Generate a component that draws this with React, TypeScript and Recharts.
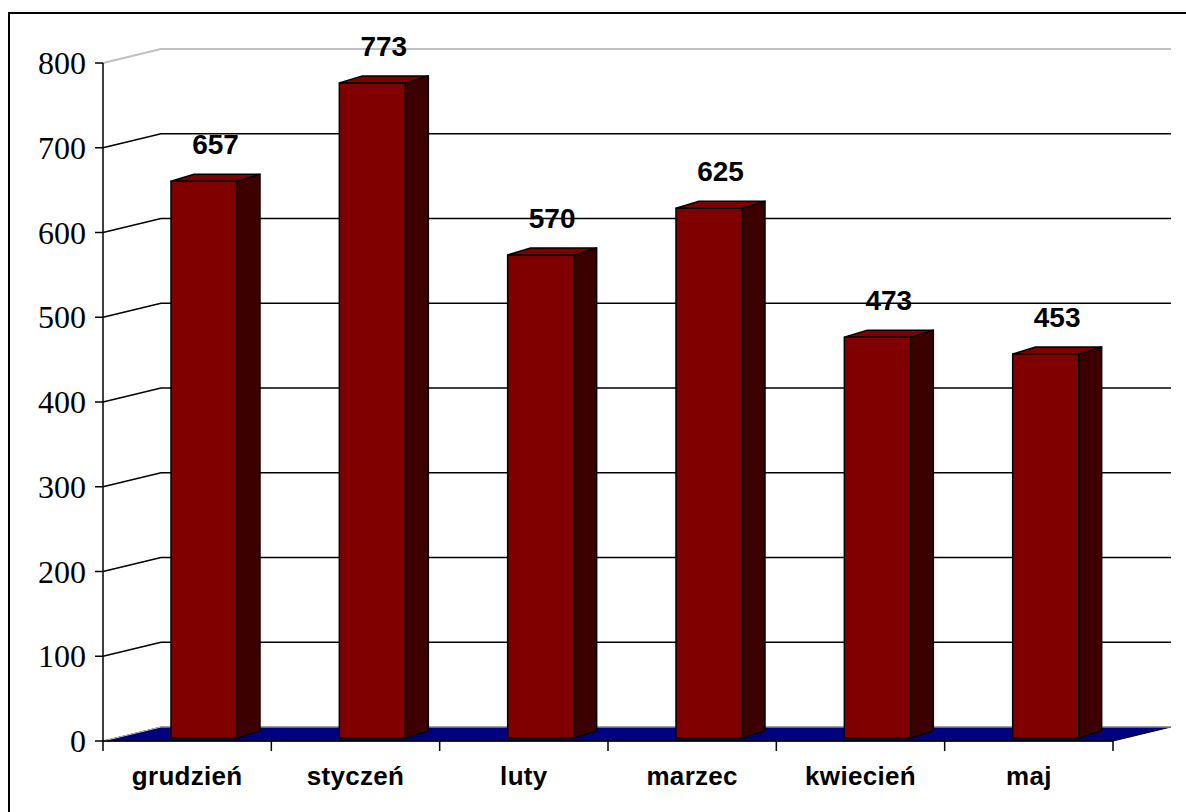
import React from 'react';
import { BarChart, Bar, XAxis, YAxis, CartesianGrid, LabelList } from 'recharts';

const months = ['grudzień', 'styczeń', 'luty', 'marzec', 'kwiecień', 'maj'];
const counts = [657, 773, 570, 625, 473, 453];
const yTicks = [0, 100, 200, 300, 400, 500, 600, 700, 800];

const data = months.map((month, i) => ({ month, count: counts[i] }));

// layout (page pixels, the chart sits at 0,0)
const W = 1186;
const H = 812;
const TOP = 63;
const RIGHT = 73;
const AXIS_W = 103;
const AXIS_H = 71;
const AXIS_Y = H - AXIS_H;
const BAND = (W - RIGHT - AXIS_W) / months.length;

// fake 3d: back wall offset and bar depth
const WALL_DX = 58;
const WALL_DY = 14;
const BAR_DX = 23;
const BAR_DY = 7;
const BAR_SHIFT_X = 17;
const BAR_SHIFT_Y = 3;
const LABEL_LIFT = 27;

const SANS = '"Liberation Sans", Arial, sans-serif';
const SERIF = '"Liberation Serif", "Times New Roman", serif';

const renderGridLine = (props: any) => {
  const { x1, y1, x2 } = props;
  const bx1 = x1 + WALL_DX;
  const bx2 = x2 + WALL_DX;
  const by = y1 - WALL_DY;
  if (Math.abs(y1 - AXIS_Y) < 1) {
    // floor
    return (
      <g key={`grid-${y1}`}>
        <polygon
          points={`${x1},${y1} ${x2},${y1} ${bx2},${by} ${bx1},${by}`}
          fill="#000080"
          stroke="#000"
          strokeWidth={1}
        />
        <polyline points={`${x1},${y1} ${bx1},${by} ${bx2},${by}`} fill="none" stroke="#c8c8c8" strokeWidth={1} />
      </g>
    );
  }
  const isTop = Math.abs(y1 - TOP) < 1;
  return (
    <polyline
      key={`grid-${y1}`}
      points={`${x1},${y1} ${bx1},${by} ${bx2},${by}`}
      fill="none"
      stroke={isTop ? '#c0c0c0' : '#000'}
      strokeWidth={isTop ? 2 : 1.5}
    />
  );
};

const Bar3D = (props: any) => {
  const { x, y, width, height } = props;
  const fx = x + BAR_SHIFT_X;
  const top = y - BAR_SHIFT_Y;
  const bottom = y + height - BAR_SHIFT_Y;
  const rx = fx + width;
  return (
    <g strokeLinejoin="round">
      <polygon
        points={`${rx},${top} ${rx + BAR_DX},${top - BAR_DY} ${rx + BAR_DX},${bottom - BAR_DY} ${rx},${bottom}`}
        fill="#3c0000"
        stroke="#000"
        strokeWidth={1.5}
      />
      <polygon
        points={`${fx},${top} ${fx + BAR_DX},${top - BAR_DY} ${rx + BAR_DX},${top - BAR_DY} ${rx},${top}`}
        fill="#800000"
        stroke="#000"
        strokeWidth={1.5}
      />
      <rect x={fx} y={top} width={width} height={bottom - top} fill="#800000" stroke="#000" strokeWidth={1.5} />
    </g>
  );
};

const renderValue = (props: any) => {
  const { x, y, width, value } = props;
  return (
    <text
      x={x + BAR_SHIFT_X + width / 2 + BAR_DX / 2}
      y={y - BAR_SHIFT_Y - LABEL_LIFT}
      textAnchor="middle"
      fontFamily={SANS}
      fontSize={28}
      fontWeight="bold"
      fill="#000"
    >
      {value}
    </text>
  );
};

const MonthTick = (props: any) => {
  const { x, payload, index } = props;
  const half = BAND / 2;
  const last = index === months.length - 1;
  return (
    <g>
      <line x1={x - half} y1={AXIS_Y} x2={x - half} y2={AXIS_Y + 10} stroke="#000" strokeWidth={1.5} />
      {last && <line x1={x + half} y1={AXIS_Y} x2={x + half} y2={AXIS_Y + 10} stroke="#000" strokeWidth={1.5} />}
      <text
        x={x}
        y={AXIS_Y + 44}
        textAnchor="middle"
        fontFamily={SANS}
        fontSize={26}
        fontWeight="bold"
        letterSpacing={0.3}
        fill="#000"
      >
        {payload.value}
      </text>
    </g>
  );
};

const ValueTick = (props: any) => {
  const { x, y, payload } = props;
  return (
    <text x={x} y={y} dy={11} textAnchor="end" fontFamily={SERIF} fontSize={32} fill="#000">
      {payload.value}
    </text>
  );
};

export default function App() {
  return (
    <div style={{ position: 'fixed', left: 0, top: 0, width: W, height: H, overflow: 'hidden', background: '#fff' }}>
      <div
        style={{
          position: 'absolute',
          left: 8,
          top: 12,
          width: W,
          height: H,
          borderTop: '2px solid #000',
          borderLeft: '2px solid #000',
        }}
      />
      <div style={{ position: 'absolute', left: 0, top: 0 }}>
        <BarChart width={W} height={H} data={data} margin={{ top: TOP, right: RIGHT, bottom: 0, left: 0 }}>
          <CartesianGrid vertical={false} horizontal={renderGridLine} />
          <XAxis
            dataKey="month"
            height={AXIS_H}
            interval={0}
            tickLine={false}
            axisLine={{ stroke: '#000', strokeWidth: 1.5 }}
            tick={<MonthTick />}
          />
          <YAxis
            width={AXIS_W}
            domain={[0, 800]}
            ticks={yTicks}
            interval={0}
            tickSize={8}
            tickMargin={9}
            tickLine={{ stroke: '#000', strokeWidth: 1.5 }}
            axisLine={{ stroke: '#000', strokeWidth: 1.5 }}
            tick={<ValueTick />}
          />
          <Bar dataKey="count" barSize={66} shape={Bar3D} isAnimationActive={false}>
            <LabelList dataKey="count" content={renderValue} />
          </Bar>
        </BarChart>
      </div>
    </div>
  );
}
